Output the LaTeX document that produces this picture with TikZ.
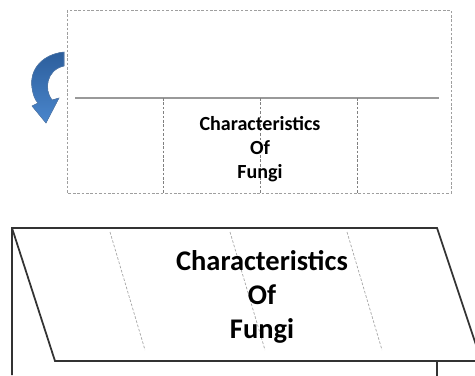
\documentclass[tikz,border=0pt]{standalone}
\usepackage{fontspec}
\setmainfont{Carlito}
\usepackage{tikz}
\usetikzlibrary{arrows, arrows.meta}

\definecolor{flapblue}{HTML}{4A86CC}
\definecolor{flapdark}{HTML}{2C5E9C}

\begin{document}
\begin{tikzpicture}[x=0.02cm, y=-0.02cm]
	\useasboundingbox (0,0) rectangle (475,375);
	\clip (0,0) rectangle (475,375);
	\draw[gray!75, dash pattern=on 1.5pt off 1pt] (67,10) rectangle (451,193);		%open flap
	\draw[gray!80, line width=0.8pt] (75,98) -- (439,98);							%fold line
	\foreach \x in {163,260,357}
		\draw[gray, dash pattern=on 1.5pt off 1pt] (\x,98) -- (\x,193);			%cut lines
	\node[font=\bfseries\fontsize{11.4}{13.8}\selectfont, align=center] (topTitle) at (260,149) {Characteristics\\Of\\Fungi};
	\fill[top color=flapdark, bottom color=flapblue, draw=flapdark!80, line width=0.3pt]
		(64,52) .. controls (44,54) and (29,68) .. (32,88)
		.. controls (33,95) and (35,100) .. (38,103) -- (32,106) -- (46,123) -- (59,98) -- (52,100)
		.. controls (44,90) and (46,70) .. (64,66) -- cycle;						%turn arrow
	\draw[black!80, line width=1pt] (12,375) -- (12,228) -- (437,228) -- (485,372);	%left edge and top
	\draw[black!80, line width=1pt] (12,228) -- (55,361) -- (490,361);				%slanted flap
	\draw[black!80, line width=1pt] (437,361) -- (437,380);						%right edge
	\draw[gray!70, dash pattern=on 1.5pt off 1pt] (110,232) -- (145,350);			%cut line
	\draw[gray!70, dash pattern=on 1.5pt off 1pt] (230,232) -- (265,350);			%cut line
	\draw[gray!70, dash pattern=on 1.5pt off 1pt] (347,232) -- (382,350);			%cut line
	\node[font=\bfseries\fontsize{16.2}{19.4}\selectfont, align=center] (bottomTitle) at (262,297) {Characteristics\\Of\\Fungi};
\end{tikzpicture}
\end{document}
